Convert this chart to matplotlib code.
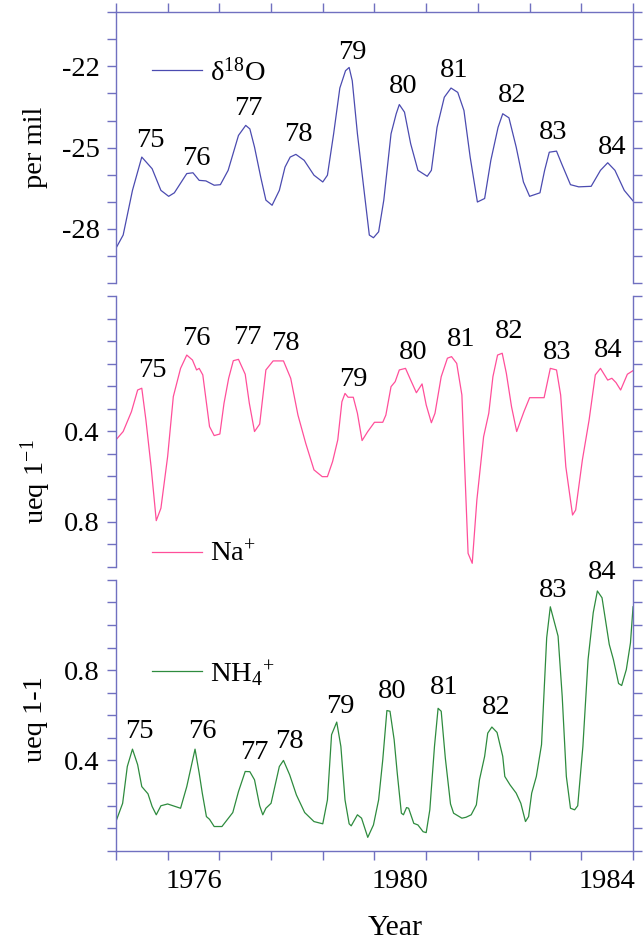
import matplotlib
matplotlib.use('Agg')
import matplotlib.pyplot as plt
import numpy as np

plt.rcParams['font.family'] = ['Liberation Serif', 'DejaVu Serif']
plt.rcParams['mathtext.fontset'] = 'custom'
plt.rcParams['mathtext.rm'] = 'Liberation Serif'
plt.rcParams['mathtext.it'] = 'Liberation Serif:italic'

# delta 18O (per mil)
o18_t = [1975.0, 1975.14, 1975.32, 1975.5, 1975.7, 1975.87, 1976.02, 1976.13, 1976.37, 1976.49,
         1976.61, 1976.74, 1976.9, 1977.02, 1977.17, 1977.37, 1977.51, 1977.59, 1977.68, 1977.8,
         1977.9, 1978.02, 1978.16, 1978.27, 1978.37, 1978.48, 1978.64, 1978.83, 1979.0, 1979.09,
         1979.21, 1979.33, 1979.44, 1979.51, 1979.57, 1979.67, 1979.79, 1979.9, 1979.98, 1980.08,
         1980.18, 1980.32, 1980.42, 1980.48, 1980.58, 1980.7, 1980.84, 1981.02, 1981.1, 1981.21,
         1981.35, 1981.48, 1981.61, 1981.73, 1981.85, 1981.99, 1982.13, 1982.25, 1982.39, 1982.48,
         1982.6, 1982.74, 1982.88, 1983.0, 1983.2, 1983.29, 1983.38, 1983.52, 1983.62, 1983.79,
         1983.95, 1984.19, 1984.37, 1984.51, 1984.65, 1984.83, 1985.0]
o18_v = [-28.72, -28.23, -26.58, -25.35, -25.78, -26.58, -26.8, -26.67, -25.96, -25.93,
         -26.21, -26.23, -26.39, -26.37, -25.84, -24.55, -24.18, -24.31, -24.98, -26.09,
         -26.94, -27.13, -26.58, -25.72, -25.35, -25.25, -25.47, -26.02, -26.27, -26.02,
         -24.49, -22.8, -22.16, -22.04, -22.53, -24.49, -26.45, -28.23, -28.33, -28.11,
         -26.94, -24.49, -23.75, -23.41, -23.69, -24.86, -25.84, -26.06, -25.84, -24.25,
         -23.14, -22.8, -22.96, -23.63, -25.35, -27.01, -26.88, -25.47, -24.25, -23.75,
         -23.9, -24.98, -26.27, -26.8, -26.67, -25.84, -25.17, -25.13, -25.6, -26.37,
         -26.45, -26.43, -25.84, -25.56, -25.84, -26.58, -26.97]

# Na+ (ueq l-1), drawn on an inverted axis
na_t = [1975.0, 1975.14, 1975.3, 1975.42, 1975.5, 1975.58, 1975.68, 1975.78, 1975.87, 1976.0,
        1976.11, 1976.25, 1976.37, 1976.48, 1976.56, 1976.61, 1976.68, 1976.81, 1976.9, 1977.01,
        1977.09, 1977.18, 1977.27, 1977.37, 1977.5, 1977.58, 1977.68, 1977.78, 1977.9, 1978.04,
        1978.24, 1978.38, 1978.52, 1978.67, 1978.83, 1978.99, 1979.09, 1979.19, 1979.29, 1979.37,
        1979.43, 1979.49, 1979.59, 1979.67, 1979.76, 1979.87, 1980.0, 1980.16, 1980.22, 1980.32,
        1980.4, 1980.48, 1980.6, 1980.7, 1980.81, 1980.92, 1981.0, 1981.1, 1981.17, 1981.29,
        1981.41, 1981.49, 1981.59, 1981.69, 1981.81, 1981.89, 1981.98, 1982.11, 1982.21, 1982.29,
        1982.38, 1982.47, 1982.55, 1982.65, 1982.75, 1982.89, 1983.0, 1983.28, 1983.4, 1983.52,
        1983.6, 1983.7, 1983.83, 1983.89, 1984.02, 1984.15, 1984.27, 1984.37, 1984.51, 1984.59,
        1984.67, 1984.76, 1984.89, 1985.0]
na_v = [0.438, 0.401, 0.313, 0.217, 0.209, 0.35, 0.557, 0.796, 0.741, 0.512,
        0.246, 0.121, 0.062, 0.084, 0.128, 0.121, 0.15, 0.379, 0.419, 0.412,
        0.276, 0.165, 0.087, 0.081, 0.147, 0.276, 0.401, 0.368, 0.128, 0.088,
        0.088, 0.165, 0.328, 0.453, 0.571, 0.601, 0.601, 0.534, 0.438, 0.269,
        0.232, 0.249, 0.249, 0.32, 0.441, 0.401, 0.36, 0.36, 0.328, 0.202,
        0.18, 0.128, 0.121, 0.173, 0.229, 0.19, 0.283, 0.362, 0.32, 0.158,
        0.076, 0.069, 0.099, 0.239, 0.941, 0.985, 0.704, 0.424, 0.32, 0.158,
        0.062, 0.054, 0.143, 0.291, 0.401, 0.313, 0.251, 0.251, 0.121, 0.128,
        0.239, 0.557, 0.771, 0.749, 0.527, 0.35, 0.15, 0.121, 0.173, 0.165,
        0.184, 0.217, 0.147, 0.131]

# NH4+ (ueq l-1)
nh4_t = [1975.0, 1975.13, 1975.22, 1975.32, 1975.42, 1975.5, 1975.62, 1975.7, 1975.78, 1975.87,
         1976.0, 1976.25, 1976.37, 1976.53, 1976.61, 1976.67, 1976.75, 1976.81, 1976.9, 1977.05,
         1977.26, 1977.37, 1977.5, 1977.59, 1977.68, 1977.78, 1977.84, 1977.9, 1978.0, 1978.16,
         1978.24, 1978.36, 1978.49, 1978.65, 1978.83, 1979.0, 1979.09, 1979.17, 1979.27, 1979.35,
         1979.43, 1979.51, 1979.55, 1979.67, 1979.75, 1979.87, 1979.98, 1980.08, 1980.16, 1980.24,
         1980.3, 1980.38, 1980.44, 1980.52, 1980.56, 1980.62, 1980.66, 1980.76, 1980.84, 1980.94,
         1981.0, 1981.07, 1981.16, 1981.23, 1981.29, 1981.37, 1981.47, 1981.53, 1981.69, 1981.77,
         1981.87, 1981.97, 1982.03, 1982.13, 1982.19, 1982.27, 1982.37, 1982.48, 1982.52, 1982.62,
         1982.74, 1982.83, 1982.92, 1982.98, 1983.04, 1983.13, 1983.23, 1983.33, 1983.4, 1983.55,
         1983.63, 1983.71, 1983.79, 1983.87, 1983.93, 1984.03, 1984.13, 1984.23, 1984.31, 1984.4,
         1984.54, 1984.62, 1984.72, 1984.78, 1984.87, 1984.95, 1985.0]
nh4_v = [0.129, 0.21, 0.373, 0.45, 0.381, 0.284, 0.252, 0.196, 0.159, 0.199,
         0.207, 0.188, 0.284, 0.45, 0.344, 0.255, 0.151, 0.139, 0.107, 0.107,
         0.169, 0.262, 0.351, 0.35, 0.314, 0.199, 0.159, 0.188, 0.21, 0.373,
         0.4, 0.336, 0.247, 0.169, 0.129, 0.119, 0.225, 0.514, 0.57, 0.462,
         0.225, 0.119, 0.11, 0.159, 0.144, 0.059, 0.114, 0.225, 0.403, 0.621,
         0.618, 0.492, 0.344, 0.166, 0.159, 0.191, 0.188, 0.121, 0.114, 0.084,
         0.08, 0.181, 0.462, 0.631, 0.618, 0.41, 0.207, 0.166, 0.144, 0.148,
         0.159, 0.203, 0.314, 0.418, 0.521, 0.548, 0.524, 0.418, 0.329, 0.292,
         0.255, 0.21, 0.129, 0.151, 0.255, 0.329, 0.47, 0.944, 1.081, 0.951,
         0.684, 0.329, 0.188, 0.181, 0.199, 0.462, 0.847, 1.055, 1.151, 1.121,
         0.914, 0.847, 0.741, 0.732, 0.803, 0.921, 1.081]

# year annotations (text, x, y in data units)
year_tags = ['75', '76', '77', '78', '79', '80', '81', '82', '83', '84']
o18_tag_x = [1975.66, 1976.56, 1977.56, 1978.53, 1979.57, 1980.56, 1981.54, 1982.67, 1983.46, 1984.6]
o18_tag_y = [-24.74, -25.41, -23.57, -24.52, -21.48, -22.75, -22.16, -23.08, -24.43, -24.98]
na_tag_x = [1975.7, 1976.56, 1977.54, 1978.28, 1979.59, 1980.74, 1981.67, 1982.6, 1983.54, 1984.51]
na_tag_y = [0.131, -0.012, -0.017, 0.01, 0.17, 0.05, -0.008, -0.042, 0.05, 0.043]
nh4_tag_x = [1975.46, 1976.67, 1977.67, 1978.36, 1979.33, 1980.34, 1981.35, 1982.35, 1983.46, 1984.41]
nh4_tag_y = [0.529, 0.529, 0.433, 0.484, 0.64, 0.707, 0.724, 0.633, 1.151, 1.233]

year_labels = ['1976', '1980', '1984']

axis_col = '#7070c0'
fs = 20.5

fig = plt.figure(figsize=(6.44, 9.41), dpi=100)
ax1 = fig.add_axes([0.180, 0.6993, 0.803, 0.2877])
ax2 = fig.add_axes([0.180, 0.3978, 0.803, 0.2877])
ax3 = fig.add_axes([0.180, 0.0960, 0.803, 0.2877])

for ax in (ax1, ax2, ax3):
    ax.set_xlim(1975, 1985)
    for s in ax.spines.values():
        s.set_color(axis_col)
        s.set_linewidth(1.0)
    ax.tick_params(which='both', direction='out', color=axis_col, length=6.5,
                   width=1.0, labelsize=fs, pad=5, left=True, right=True,
                   labelright=False, top=False, bottom=False, labelbottom=False)

# top panel
ax1.plot(o18_t, o18_v, color='#4b4bb0', lw=0.9, label='δ$^{18}$O')
ax1.set_ylim(-30, -20)
ax1.set_yticks(np.arange(-30, -19, 1))
ax1.set_yticklabels(['-22' if v == -22 else '-25' if v == -25 else '-28' if v == -28 else ''
                     for v in range(-30, -19)])
ax1.spines['bottom'].set_visible(False)
ax1.set_xticks(np.arange(1975, 1986, 1))
ax1.tick_params(axis='x', top=True, labeltop=False)
ax1.text(-0.155, 0.5, 'per mil', transform=ax1.transAxes, rotation=90,
         ha='center', va='center', fontsize=fs)
for s, x, y in zip(year_tags, o18_tag_x, o18_tag_y):
    ax1.text(x, y, s, ha='center', va='center', fontsize=fs)
ax1.legend(loc='center left', bbox_to_anchor=(0.07, 0.779), frameon=False,
           handlelength=1.75, handletextpad=0.3, borderpad=0, borderaxespad=0,
           fontsize=fs)

# middle panel (inverted)
ax2.plot(na_t, na_v, color='#ff4f9a', lw=0.9, label='Na$^{+}$')
ax2.set_ylim(1.0, -0.2)
na_ticks = np.round(np.arange(-0.2, 1.01, 0.1), 1)
ax2.set_yticks(na_ticks)
ax2.set_yticklabels(['0.4' if v == 0.4 else '0.8' if v == 0.8 else '' for v in na_ticks])
ax2.spines['top'].set_visible(False)
ax2.spines['bottom'].set_visible(False)
ax2.text(-0.155, 0.314, 'ueq 1$^{-1}$', transform=ax2.transAxes, rotation=90,
         ha='center', va='center', fontsize=fs)
for s, x, y in zip(year_tags, na_tag_x, na_tag_y):
    ax2.text(x, y, s, ha='center', va='center', fontsize=fs)
ax2.legend(loc='center left', bbox_to_anchor=(0.07, 0.047), frameon=False,
           handlelength=1.75, handletextpad=0.3, borderpad=0, borderaxespad=0,
           fontsize=fs)

# bottom panel
ax3.plot(nh4_t, nh4_v, color='#2e8b3e', lw=0.9, label='NH$_4$$^{+}$')
ax3.set_ylim(0, 1.2)
nh4_ticks = np.round(np.arange(0, 1.21, 0.1), 1)
ax3.set_yticks(nh4_ticks)
ax3.set_yticklabels(['0.4' if v == 0.4 else '0.8' if v == 0.8 else '' for v in nh4_ticks])
ax3.spines['top'].set_visible(False)
ax3.set_xticks(np.arange(1975, 1986, 1))
ax3.set_xticks([1976.5, 1980.5, 1984.5], minor=True)
ax3.set_xticklabels(year_labels, minor=True)
ax3.tick_params(axis='x', which='major', bottom=True, labelbottom=False)
ax3.tick_params(axis='x', which='minor', bottom=True, labelbottom=True, length=0, pad=13)
ax3.text(-0.155, 0.486, 'ueq 1-1', transform=ax3.transAxes, rotation=90,
         ha='center', va='center', fontsize=fs)
ax3.text(0.54, -0.286, 'Year', transform=ax3.transAxes, ha='center', va='center',
         fontsize=fs + 1)
for s, x, y in zip(year_tags, nh4_tag_x, nh4_tag_y):
    ax3.text(x, y, s, ha='center', va='center', fontsize=fs)
ax3.legend(loc='center left', bbox_to_anchor=(0.07, 0.656), frameon=False,
           handlelength=1.75, handletextpad=0.3, borderpad=0, borderaxespad=0,
           fontsize=fs)

fig.savefig('out.png', dpi=100)
